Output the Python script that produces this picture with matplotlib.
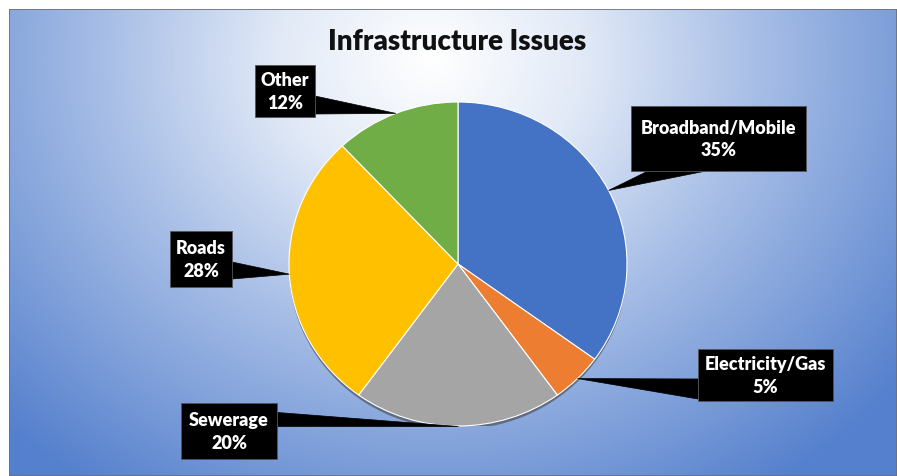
import numpy as np
import matplotlib.pyplot as plt
from matplotlib.colors import LinearSegmentedColormap
from matplotlib.patches import Rectangle, Polygon, Ellipse

# data
labels = ['Broadband/Mobile', 'Electricity/Gas', 'Sewerage', 'Roads', 'Other']
values = [35, 5, 20, 28, 12]
colors = ['#4472C4', '#ED7D31', '#A5A5A5', '#FFC000', '#70AD47']
title = 'Infrastructure Issues'

W, H = 897, 477
fig = plt.figure(figsize=(W / 100, H / 100), dpi=100)
fig.patch.set_facecolor('white')

# background gradient (chart area starts at x=9, y=10 from top)
bg = fig.add_axes([9 / W, 0, (W - 9) / W, (H - 10) / H])
bg.set_axis_off()
xx, yy = np.meshgrid(np.arange(9, W), np.arange(10, H))
d = np.sqrt(((xx - 430) / 600.0) ** 2 + ((yy - 60) / 520.0) ** 2)
cmap = LinearSegmentedColormap.from_list(
    'bg', [(0, '#FFFFFF'), (0.25, '#E2EAF7'), (0.55, '#A6BDE6'), (1.0, '#5580CD')])
bg.imshow(np.clip(d, 0, 1), cmap=cmap, vmin=0, vmax=1, aspect='auto',
          extent=[0, 1, 0, 1], origin='upper')
bg.add_patch(Rectangle((0, 0), 1, 1, transform=bg.transAxes, fill=False,
                       edgecolor='#6B6F7A', linewidth=1.2))

# pie (slightly wider than tall, like the reference)
cx, cy, rx, ry = 458, 265, 169, 162
pax = fig.add_axes([(cx - rx) / W, (H - cy - ry) / H, 2 * rx / W, 2 * ry / H])
pax.add_patch(Ellipse((0.0, -0.02), 2.0, 2.0, facecolor='#3A3A3A', alpha=0.55,
                      linewidth=0, zorder=0))
wedges, _ = pax.pie(values, colors=colors, startangle=90, counterclock=False,
                    radius=1.0, wedgeprops=dict(edgecolor='white', linewidth=0.8))
pax.set_aspect('auto')
pax.set_xlim(-1, 1)
pax.set_ylim(-1, 1)
pax.set_axis_off()

# overlay in pixel coordinates (y down)
ov = fig.add_axes([0, 0, 1, 1])
ov.set_xlim(0, W)
ov.set_ylim(H, 0)
ov.set_axis_off()
ov.patch.set_alpha(0)

ov.text(457, 42, title, ha='center', va='center', fontsize=20,
        fontweight='heavy', family='Lato', color='#111111')

# label boxes: (x0, y0, x1, y1) and pointer base on box edge
boxes = {
    'Broadband/Mobile': ((631, 107, 806, 172), [(648, 172), (706, 172)]),
    'Electricity/Gas': ((698, 350, 833, 402), [(698, 380), (698, 400)]),
    'Sewerage': ((181, 404, 277, 460), [(277, 413), (277, 427)]),
    'Roads': ((170, 232, 232, 288), [(232, 263), (232, 280)]),
    'Other': ((255, 66, 315, 118), [(315, 97), (315, 115)]),
}

to_pix = pax.transData
for w, lab, v in zip(wedges, labels, values):
    mid = np.deg2rad((w.theta1 + w.theta2) / 2)
    px, py = to_pix.transform((np.cos(mid), np.sin(mid)))
    tip = (px, H - py)
    (x0, y0, x1, y1), base = boxes[lab]
    ov.add_patch(Polygon([base[0], base[1], tip], closed=True,
                         facecolor='black', edgecolor='black', linewidth=0.5))
    ov.add_patch(Rectangle((x0, y0), x1 - x0, y1 - y0, facecolor='black',
                           edgecolor='#555555', linewidth=0.6))
    ov.text((x0 + x1) / 2, (y0 + y1) / 2, f'{lab}\n{v}%', ha='center',
            va='center', fontsize=13, fontweight='heavy', family='Lato',
            color='white', linespacing=1.4)

fig.savefig('out.png', dpi=100)
